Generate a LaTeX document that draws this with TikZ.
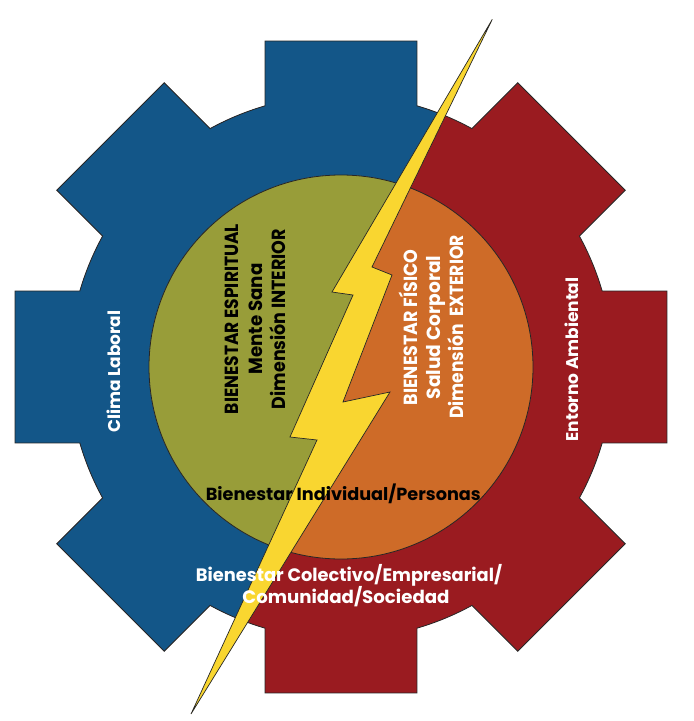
\documentclass[tikz,border=0pt]{standalone}
\usepackage{fontspec}
\setmainfont{Poppins}
\definecolor{gblue}{RGB}{19,86,136}
\definecolor{gred}{RGB}{154,27,32}
\definecolor{cgreen}{RGB}{152,157,57}
\definecolor{corange}{RGB}{206,107,40}
\definecolor{boltyel}{RGB}{249,214,48}
\newcommand\gearshape{(106.22:272) \foreach \a in {90,45,0,-45,-90,-135,-180,-225}{ -- (\a+16.22:272) -- (\a+13.12:334.74) -- (\a-13.12:334.74) -- (\a-16.22:272) arc[start angle=\a-16.22, end angle=\a-28.78, radius=272]} -- cycle}
\newcommand\sx[2]{\scalebox{#1}[1]{#2}}
\begin{document}
\begin{tikzpicture}[x=1pt,y=1pt,
  outline/.style={draw=black!85, line width=0.8pt},
  vtext/.style={rotate=90, anchor=base, inner sep=0pt, font=\bfseries\fontsize{19}{23}\selectfont},
  stext/.style={rotate=90, anchor=base, inner sep=0pt, text=white, font=\bfseries\fontsize{17}{20}\selectfont},
  htext/.style={anchor=base, inner sep=0pt, font=\bfseries\fontsize{17.5}{20}\selectfont},
  btext/.style={anchor=base, inner sep=0pt, text=white, font=\bfseries\fontsize{18}{21}\selectfont}]
\useasboundingbox (0,0) rectangle (694,-721);
\coordinate (C) at (341,-367);
% gear: red whole, blue left part
\begin{scope}[shift={(341,-367)}]
  \fill[gred] \gearshape;
  \begin{scope}
    \clip[shift={(-341,367)}] (0,0) -- (520,0) -- (496,-19) -- (336,-292) -- (357,-295) -- (294,-437) -- (321,-440) -- (195,-714) -- (195,-721) -- (0,-721) -- cycle;
    \fill[gblue] \gearshape;
  \end{scope}
  \path[outline] \gearshape;
\end{scope}
% inner circle
\fill[corange] (C) circle[radius=192];
\begin{scope}
  \clip (0,0) -- (520,0) -- (496,-19) -- (336,-292) -- (357,-295) -- (294,-437) -- (321,-440) -- (195,-714) -- (195,-721) -- (0,-721) -- cycle;
  \fill[cgreen] (C) circle[radius=192];
\end{scope}
\draw[outline] (C) circle[radius=192];
% lightning bolt
\coordinate (T) at (492.3,-19.3);
\coordinate (R1) at (372,-267);
\coordinate (R2) at (392,-275);
\coordinate (R3) at (343,-402);
\coordinate (R4) at (390,-392);
\coordinate (B) at (191,-714);
\coordinate (L3) at (317,-440);
\coordinate (L2) at (290,-437);
\coordinate (L1b) at (353,-295);
\coordinate (L1) at (332,-292);
\filldraw[fill=boltyel, draw=black!85, line width=0.7pt, line join=miter]
  (T) -- (R1) -- (R2) -- (R3) -- (R4) -- (B) -- (L3) -- (L2) -- (L1b) -- (L1) -- cycle;
% texts
\node[vtext] (e1) at (238,-319) {\sx{0.9}{BIENESTAR ESPIRITUAL}};
\node[vtext] (e2) at (262,-319) {\sx{0.96}{Mente Sana}};
\node[vtext] (e3) at (285,-319) {\sx{0.92}{Dimensión INTERIOR}};
\node[vtext, text=white] (f1) at (417,-327.5) {\sx{0.92}{BIENESTAR FÍSICO}};
\node[vtext, text=white] (f2) at (440,-327.5) {\sx{0.98}{Salud Corporal}};
\node[vtext, text=white] (f3) at (463,-327) {\sx{0.9}{Dimensión\ \ EXTERIOR}};
\node[stext] (cl) at (120,-371.7) {Clima Laboral};
\node[stext] (ea) at (578,-359.5) {Entorno Ambiental};
\node[htext] (bi) at (343.3,-500) {\sx{1.01}{Bienestar Individual/Personas}};
\node[btext] (bc1) at (349,-581.7) {\sx{0.99}{Bienestar Colectivo/Empresarial/}};
\node[btext] (bc2) at (346,-603.3) {\sx{1.01}{Comunidad/Sociedad}};
\end{tikzpicture}
\end{document}
